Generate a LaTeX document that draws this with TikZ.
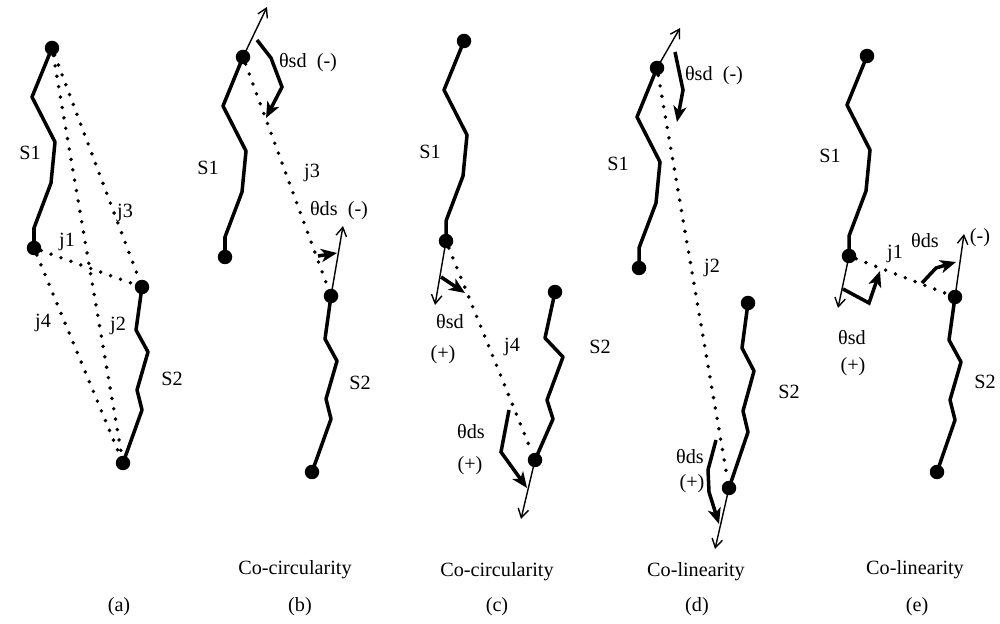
\documentclass[tikz,border=0pt]{standalone}
\usepackage{fontspec}
\setmainfont{Liberation Serif}
\usepackage{tikz}
\usetikzlibrary{arrows.meta}

\tikzset{
    endpt/.style={circle, fill=black, inner sep=0pt, minimum size=0.29cm},
    seg/.style={line width=2pt, line join=round},
    link/.style={line width=2.2pt, line cap=round, dash pattern=on 0pt off 6pt},
    tang/.style={line width=0.8pt, -{Straight Barb[length=5pt,width=6pt]}},
    angarrow/.style={line width=2pt, -{Stealth[length=9pt,width=7.5pt,inset=2.5pt]}},
    lbl/.style={font=\fontsize{11.5}{13}\selectfont, inner sep=1pt}
}

\begin{document}
\begin{tikzpicture}[x=0.02cm, y=-0.02cm]
    \useasboundingbox (0,0) rectangle (1000,624);

    % (a) the four joins
    \node[endpt] (aS1top) at (52,48) {};
    \node[endpt] (aS1bot) at (34,248) {};
    \node[endpt] (aS2top) at (142,287) {};
    \node[endpt] (aS2bot) at (123,463) {};
    \draw[seg] (aS1top.center) -- ++(-20,49) -- ++(23,45) -- ++(-4,41) -- ++(-17,45) -- (aS1bot.center);
    \draw[seg] (aS2top.center) -- ++(-6,43) -- ++(12,22) -- ++(-11,38) -- ++(5,20) -- (aS2bot.center);
    \draw[link] (aS1top) -- (aS2top);
    \draw[link] (aS1top) -- (aS2bot);
    \draw[link] (aS1bot) -- (aS2top);
    \draw[link] (aS1bot) -- (aS2bot);
    \node[lbl] (aS1) at (30,153) {S1};
    \node[lbl] (aS2) at (172,379) {S2};
    \node[lbl] (aj3) at (125,213) {j3};
    \node[lbl] (aj1) at (67,242) {j1};
    \node[lbl] (aj4) at (43,323) {j4};
    \node[lbl] (aj2) at (118,326) {j2};
    \node[lbl] (acap) at (119,607) {(a)};

    % (b) co-circularity, j3
    \node[endpt] (bS1top) at (243,57) {};
    \node[endpt] (bS1bot) at (225,257) {};
    \node[endpt] (bS2top) at (331,296) {};
    \node[endpt] (bS2bot) at (312,472) {};
    \draw[seg] (bS1top.center) -- ++(-20,49) -- ++(23,45) -- ++(-4,41) -- ++(-17,45) -- (bS1bot.center);
    \draw[seg] (bS2top.center) -- ++(-6,43) -- ++(12,22) -- ++(-11,38) -- ++(5,20) -- (bS2bot.center);
    \draw[link] (bS1top) -- (bS2top);
    \coordinate (bT1) at (267,7);
    \coordinate (bT2) at (343,226);
    \draw[tang] (bS1top.center) -- (bT1);
    \draw[tang] (bS2top.center) -- (bT2);
    \draw[angarrow] (257,40) -- (271,58) -- (282,87) -- (266,118);
    \draw[angarrow] (318,256) -- (337,253);
    \node[lbl] (bsd) at (308,63) {θsd\enspace(-)};
    \node[lbl] (bds) at (339,211) {θds\enspace(-)};
    \node[lbl] (bj3) at (312,173) {j3};
    \node[lbl] (bS1) at (208,168) {S1};
    \node[lbl] (bS2) at (360,383) {S2};
    \node[lbl] (bname) at (295,570) {Co-circularity};
    \node[lbl] (bcap) at (300,607) {(b)};

    % (c) co-circularity, j4
    \node[endpt] (cS1top) at (464,41) {};
    \node[endpt] (cS1bot) at (446,241) {};
    \node[endpt] (cS2top) at (555,292) {};
    \node[endpt] (cS2bot) at (535,460) {};
    \draw[seg] (cS1top.center) -- ++(-20,49) -- ++(23,45) -- ++(-4,41) -- ++(-17,45) -- (cS1bot.center);
    \draw[seg] (cS2top.center) -- ++(-10,46) -- ++(18,19) -- ++(-16,43) -- ++(6,19) -- (cS2bot.center);
    \draw[link] (cS1bot) -- (cS2bot);
    \coordinate (cT1) at (435,305);
    \coordinate (cT2) at (521,519);
    \draw[tang] (cS1bot.center) -- (cT1);
    \draw[tang] (cS2bot.center) -- (cT2);
    \draw[angarrow] (441,277) -- (465,293);
    \draw[angarrow] (509,410) -- (501,452) -- (527,488);
    \node[lbl] (csd) at (450,322) {θsd};
    \node[lbl] (csdsign) at (443,355) {(+)};
    \node[lbl] (cds) at (471,432) {θds};
    \node[lbl] (cdssign) at (470,466) {(+)};
    \node[lbl] (cj4) at (512,347) {j4};
    \node[lbl] (cS1) at (430,152) {S1};
    \node[lbl] (cS2) at (600,347) {S2};
    \node[lbl] (cname) at (497,572) {Co-circularity};
    \node[lbl] (ccap) at (497,607) {(c)};

    % (d) co-linearity, j2
    \node[endpt] (dS1top) at (657,68) {};
    \node[endpt] (dS1bot) at (639,268) {};
    \node[endpt] (dS2top) at (748,303) {};
    \node[endpt] (dS2bot) at (729,488) {};
    \draw[seg] (dS1top.center) -- ++(-20,49) -- ++(23,45) -- ++(-4,41) -- ++(-17,45) -- (dS1bot.center);
    \draw[seg] (dS2top.center) -- ++(-6,45) -- ++(12,23) -- ++(-11,40) -- ++(5,21) -- (dS2bot.center);
    \draw[link] (dS1top) -- (dS2bot);
    \coordinate (dT1) at (680,28);
    \coordinate (dT2) at (715,549);
    \draw[tang] (dS1top.center) -- (dT1);
    \draw[tang] (dS2bot.center) -- (dT2);
    \draw[angarrow] (675,52) -- (683,90) -- (677,122);
    \draw[angarrow] (716,440) -- (708,470) -- (709,492) -- (719,524);
    \node[lbl] (dsd) at (714,76) {θsd\enspace(-)};
    \node[lbl] (dds) at (690,457) {θds};
    \node[lbl] (ddssign) at (692,484) {(+)};
    \node[lbl] (dj2) at (712,268) {j2};
    \node[lbl] (dS1) at (618,164) {S1};
    \node[lbl] (dS2) at (789,392) {S2};
    \node[lbl] (dname) at (696,572) {Co-linearity};
    \node[lbl] (dcap) at (697,607) {(d)};

    % (e) co-linearity, j1
    \node[endpt] (eS1top) at (867,56) {};
    \node[endpt] (eS1bot) at (849,256) {};
    \node[endpt] (eS2top) at (955,297) {};
    \node[endpt] (eS2bot) at (937,472) {};
    \draw[seg] (eS1top.center) -- ++(-20,49) -- ++(23,45) -- ++(-4,41) -- ++(-17,45) -- (eS1bot.center);
    \draw[seg] (eS2top.center) -- ++(-6,43) -- ++(12,22) -- ++(-11,38) -- ++(5,20) -- (eS2bot.center);
    \draw[link] (eS1bot) -- (eS2top);
    \coordinate (eT1) at (838,308);
    \coordinate (eT2) at (964,234);
    \draw[tang] (eS1bot.center) -- (eT1);
    \draw[tang] (eS2top.center) -- (eT2);
    \draw[angarrow] (843,289) -- (869,303) -- (880,271);
    \draw[angarrow] (922,283) -- (936,268) -- (956,262);
    \node[lbl] (esd) at (852,338) {θsd};
    \node[lbl] (esdsign) at (853,367) {(+)};
    \node[lbl] (eds) at (925,241) {θds};
    \node[lbl] (edssign) at (980,238) {(-)};
    \node[lbl] (ej1) at (895,254) {j1};
    \node[lbl] (eS1) at (830,156) {S1};
    \node[lbl] (eS2) at (985,382) {S2};
    \node[lbl] (ename) at (915,570) {Co-linearity};
    \node[lbl] (ecap) at (917,607) {(e)};
\end{tikzpicture}
\end{document}
